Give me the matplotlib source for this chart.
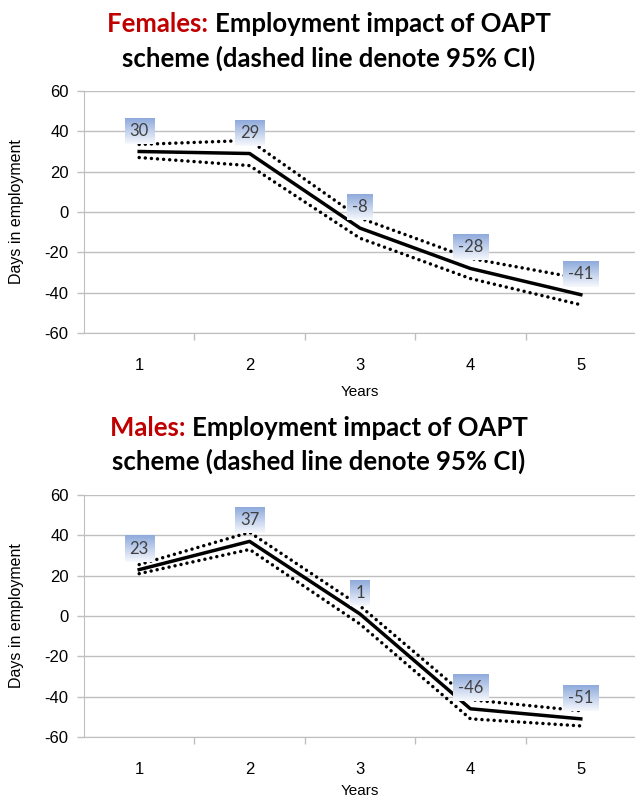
import numpy as np
import matplotlib
matplotlib.use("Agg")
from matplotlib import pyplot as plt
from matplotlib.colors import LinearSegmentedColormap

years = [1, 2, 3, 4, 5]
year_labels = ["1", "2", "3", "4", "5"]

female_mean = [30, 29, -8, -28, -41]
female_upper = [33.5, 35.5, -3, -23, -33]
female_lower = [27, 23, -13, -33, -46]

male_mean = [23, 37, 1, -46, -51]
male_upper = [25.5, 41.5, 5, -41.5, -47]
male_lower = [21, 33, -4, -51, -54.5]

y_ticks = [-60, -40, -20, 0, 20, 40, 60]

W, H = 635, 798
fig = plt.figure(figsize=(W / 100, H / 100), dpi=100)
plt.rcParams["font.family"] = ["Liberation Sans", "DejaVu Sans"]

grid_col = "#bfbfbf"
label_cmap = LinearSegmentedColormap.from_list("lbl", ["#f7f9fd", "#8eaadb"])


def px_box(left, top, right, bottom):
    return [left / W, 1 - bottom / H, (right - left) / W, (bottom - top) / H]


def draw_title(base1, base2, cx, who, rest1, line2):
    r = fig.canvas.get_renderer()
    kw = dict(fontfamily="Lato", fontweight="bold", fontsize=18.5, va="baseline")
    t1 = fig.text(0, 1 - base1 / H, who + " ", color="#c00000", **kw)
    t2 = fig.text(0, 1 - base1 / H, rest1, color="black", **kw)
    w1 = t1.get_window_extent(r).width
    w2 = t2.get_window_extent(r).width
    x0 = cx - (w1 + w2) / 2
    t1.set_x(x0 / W)
    t2.set_x((x0 + w1) / W)
    fig.text(cx / W, 1 - base2 / H, line2, ha="center", color="black", **kw)


def make_panel(box, mean, upper, lower):
    ax = fig.add_axes(box)
    for ci in (upper, lower):
        ax.plot(years, ci, color="black", lw=2.5, linestyle=(0, (0.01, 1.75)),
                dash_capstyle="round", zorder=3)
    ax.plot(years, mean, color="black", lw=2.5, zorder=3)
    ax.set_xlim(0.5, 5.5)
    ax.set_ylim(-60, 60)
    ax.set_yticks(y_ticks)
    ax.set_yticklabels([str(v) for v in y_ticks], fontsize=12)
    ax.set_xticks(years)
    ax.set_xticklabels(year_labels, fontsize=12)
    ax.set_xticks([1.5, 2.5, 3.5, 4.5], minor=True)
    ax.tick_params(axis="x", which="major", length=0, pad=18)
    ax.tick_params(axis="x", which="minor", length=5, color=grid_col, width=1)
    ax.tick_params(axis="y", length=5, color=grid_col, width=1, pad=6)
    ax.grid(axis="y", color=grid_col, lw=1)
    ax.set_axisbelow(True)
    for s in ["top", "right"]:
        ax.spines[s].set_visible(False)
    for s in ["left", "bottom"]:
        ax.spines[s].set_color(grid_col)
    ax.set_ylabel("Days in employment", fontsize=11.5)
    ax.set_xlabel("Years", fontsize=11)

    texts = []
    for x, v in zip(years, mean):
        t = ax.annotate(str(v), (x, v), xytext=(0, 21), textcoords="offset pixels",
                        ha="center", va="center", fontsize=12, fontfamily="Lato",
                        color="#404040", zorder=6,
                        bbox=dict(boxstyle="square,pad=0.3", fc="none", ec="none"))
        texts.append(t)
    return ax, texts


top_ax, top_txt = make_panel(px_box(84, 91, 636, 333), female_mean, female_upper, female_lower)
bot_ax, bot_txt = make_panel(px_box(84, 495, 636, 737), male_mean, male_upper, male_lower)

top_ax.yaxis.set_label_coords(-0.108, 0.5)
bot_ax.yaxis.set_label_coords(-0.108, 0.5)
top_ax.xaxis.set_label_coords(0.5, -0.215)
bot_ax.xaxis.set_label_coords(0.5, -0.195)

fig.canvas.draw()
r = fig.canvas.get_renderer()
grad = np.linspace(0, 1, 64).reshape(-1, 1)
for ax, txts in ((top_ax, top_txt), (bot_ax, bot_txt)):
    inv = ax.transData.inverted()
    for t in txts:
        bb = t.get_bbox_patch().get_window_extent(r)
        (x0, y0), (x1, y1) = inv.transform([[bb.x0, bb.y0], [bb.x1, bb.y1]])
        ax.imshow(grad, extent=(x0, x1, y0, y1), origin="lower", aspect="auto",
                  cmap=label_cmap, zorder=5, clip_on=False)
    ax.set_xlim(0.5, 5.5)
    ax.set_ylim(-60, 60)

draw_title(32, 66.5, 329, "Females:", "Employment impact of OAPT", "scheme (dashed line denote 95% CI)")
draw_title(436, 470, 319, "Males:", "Employment impact of OAPT", "scheme (dashed line denote 95% CI)")

fig.savefig("out.png", dpi=100)
